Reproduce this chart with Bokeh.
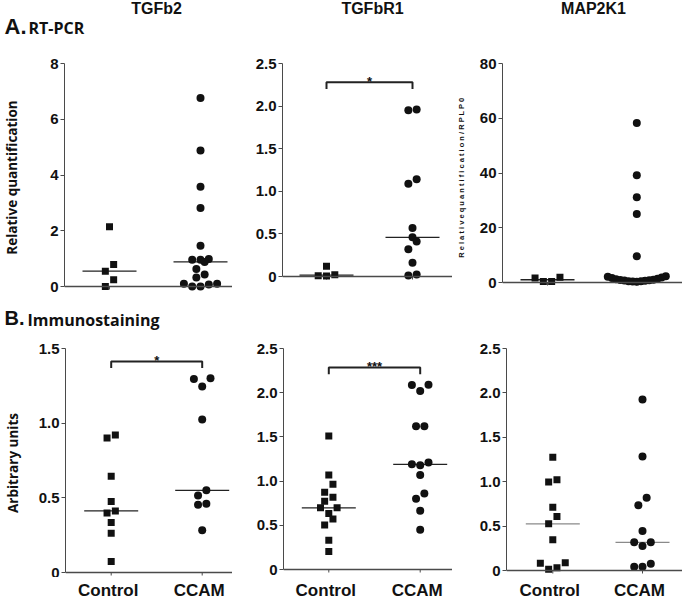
import numpy as np
from bokeh.plotting import figure
from bokeh.models import Span, FixedTicker
from bokeh.layouts import row, column
from bokeh.core.properties import value
from bokeh.embed import file_html
from bokeh.resources import INLINE

groups = ["Control", "CCAM"]
genes = ["TGFb2", "TGFbR1", "MAP2K1"]
sections = [("A.", "RT-PCR"), ("B.", "Immunostaining")]

# ---- A. RT-PCR (relative quantification)
rt_tgfb2_control = [2.14, 0.79, 0.55, 0.24, 0.0]
rt_tgfb2_ccam = [6.76, 4.88, 3.58, 2.82, 1.46, 0.99, 0.96, 0.96, 0.88, 0.63,
                 0.43, 0.32, 0.10, 0.10, 0.07, 0.0, 0.0]
rt_tgfbr1_control = [0.12, 0.02, 0.01, 0.005]
rt_tgfbr1_ccam = [1.96, 1.95, 1.14, 1.09, 0.57, 0.46, 0.41, 0.32, 0.16, 0.023, 0.012]
rt_map2k1_control = [1.9, 1.6, 0.4, 0.35]
rt_map2k1_ccam = [58.3, 39.2, 31.1, 25.0, 9.6, 2.3, 2.1, 1.8, 1.6, 1.4, 1.2, 1.0,
                  0.9, 0.8, 0.7, 0.6, 0.5, 0.45, 0.4, 0.3]

# ---- B. Immunostaining (arbitrary units)
im_tgfb2_control = [0.92, 0.90, 0.645, 0.476, 0.412, 0.398, 0.335, 0.263, 0.073]
im_tgfb2_ccam = [1.30, 1.295, 1.246, 1.024, 0.55, 0.516, 0.461, 0.454, 0.283]
im_tgfbr1_control = [1.51, 1.07, 0.965, 0.875, 0.818, 0.773, 0.698, 0.698, 0.634,
                     0.571, 0.503, 0.33, 0.203]
im_tgfbr1_ccam = [2.09, 2.087, 2.02, 1.62, 1.62, 1.21, 1.19, 1.18, 1.07, 0.86,
                  0.80, 0.664, 0.45]
im_map2k1_control = [1.276, 1.022, 0.996, 0.713, 0.608, 0.526, 0.347, 0.086, 0.082,
                     0.03, 0.015]
im_map2k1_ccam = [1.925, 1.284, 0.82, 0.735, 0.444, 0.317, 0.317, 0.276, 0.075,
                  0.041, 0.041]

# ---- axis ticks
ticks_rt_tgfb2 = [0, 2, 4, 6, 8]
labels_rt_tgfb2 = ["0", "2", "4", "6", "8"]
ticks_rt_map2k1 = [0, 20, 40, 60, 80]
labels_rt_map2k1 = ["0", "20", "40", "60", "80"]
ticks_25 = [0, 0.5, 1, 1.5, 2, 2.5]
labels_25 = ["0", "0.5", "1.0", "1.5", "2.0", "2.5"]
ticks_15 = [0, 0.5, 1, 1.5]
labels_15 = ["0", "0.5", "1.0", "1.5"]

# ---- significance brackets: (bar height, leg bottom, stars)
sig_rt_tgfbr1 = (2.28, 2.20, "*")
sig_im_tgfb2 = (1.413, 1.37, "*")
sig_im_tgfbr1 = (2.286, 2.21, "***")

ylabel_rt = "Relative quantification"
ylabel_rt_map2k1 = "R e l a t i v e  q u a n t i f i c a t i o n  / R P L P 0"
ylabel_im = "Arbitrary units"

ARIAL = "Liberation Sans"
SANS = "Open Sans"
INK = "#111111"
AXC = "#4a4a4a"
EXT = 5          # px of frame below the zero line
STEP = 8.3       # px between neighbouring dots in a row
MAXW = 58.0      # max px width of a row of dots
PAGE_L, PAGE_R = 0, 679

# page-pixel layout of every panel
lay_rt_tgfb2 = dict(fig_left=0, frame_left=61, fw=168, ctrl=106, ccam=197,
                    fig_top=44, top=59, zero=282, fig_bottom=300)
lay_rt_tgfbr1 = dict(fig_left=229, frame_left=279, fw=170, ctrl=323, ccam=409,
                     fig_top=44, top=63, zero=276, fig_bottom=300)
lay_rt_map2k1 = dict(fig_left=449, frame_left=499, fw=180, ctrl=544, ccam=633.3,
                     fig_top=44, top=52, zero=271, fig_bottom=300)
lay_im_tgfb2 = dict(fig_left=0, frame_left=62, fw=167, ctrl=107.7, ccam=198.7,
                    fig_top=336, top=347, zero=571, fig_bottom=577)
lay_im_tgfbr1 = dict(fig_left=229, frame_left=280, fw=169, ctrl=325.3, ccam=416.7,
                     fig_top=336, top=348, zero=569, fig_bottom=577)
lay_im_map2k1 = dict(fig_left=449, frame_left=503, fw=176, ctrl=549.3, ccam=639,
                     fig_top=336, top=345, zero=567, fig_bottom=577)


def swarm(vals, ppu, cat_ppu):
    """Prism-like dot spreading: dots closer than one marker in y share a row,
    lowest in the middle, alternating outwards."""
    v = np.asarray(vals, float)
    order = np.argsort(v, kind="stable")
    rows, cur = [], []
    for i in order:
        if cur and (v[i] - v[cur[0]]) * ppu >= STEP:
            rows.append(cur)
            cur = []
        cur.append(i)
    if cur:
        rows.append(cur)
    off = np.zeros(len(v))
    for r in rows:
        n = len(r)
        if n == 1:
            continue
        step = min(STEP, MAXW / (n - 1))
        mid = (n - 1) / 2.0
        slots = sorted(range(n), key=lambda k: (abs(k - mid), k))
        for j, idx in enumerate(r):
            off[idx] = (slots[j] - mid) * step / cat_ppu
    return off


def strip(top, bottom):
    """A text-only band whose data coordinates are page pixels."""
    s = figure(title=None, width=PAGE_R - PAGE_L, height=bottom - top,
               x_range=(PAGE_L, PAGE_R), y_range=(bottom, top),
               min_border_left=0, min_border_right=0, min_border_top=0,
               min_border_bottom=0, x_axis_type=None, y_axis_type=None,
               toolbar_location=None, output_backend="svg")
    s.outline_line_color = None
    s.xgrid.grid_line_color = None
    s.ygrid.grid_line_color = None
    return s


def put_text(s, x, baseline, text, font, size_px, align="left"):
    # vertically centred text; centre sits ~0.33 em above the baseline
    s.text(x=[x], y=[baseline - 0.33 * size_px], text=[text], text_font=value(font),
           text_font_size=f"{size_px}px", text_font_style="bold", text_color=INK,
           text_align=align, text_baseline="middle")


def make_panel(L, ctrl_vals, ccam_vals, ticks, tlabels, ylabel=None,
               ylabel_font=SANS, ylabel_size="13.5px", ylabel_standoff=10,
               sig=None, median_color="#222222"):
    ymax = ticks[-1]
    cat_ppu = L["ccam"] - L["ctrl"]
    x0 = 1 - (L["ctrl"] - L["frame_left"]) / cat_ppu
    x1 = x0 + L["fw"] / cat_ppu
    ppu = (L["zero"] - L["top"]) / ymax
    y0 = -EXT / ppu
    fh = L["zero"] + EXT - L["top"]
    p = figure(title=None, frame_width=L["fw"], frame_height=fh, x_range=(x0, x1),
               y_range=(y0, ymax),
               min_border_left=int(L["frame_left"] - L["fig_left"]),
               min_border_right=0,
               min_border_top=int(L["top"] - L["fig_top"]),
               min_border_bottom=int(L["fig_bottom"] - (L["zero"] + EXT)),
               x_axis_type=None, toolbar_location=None, output_backend="svg")
    p.ygrid.grid_line_color = None
    p.xgrid.grid_line_color = None
    p.outline_line_color = None
    p.background_fill_color = "white"
    p.border_fill_color = "white"

    ax = p.yaxis[0]
    ax.ticker = FixedTicker(ticks=ticks)
    ax.major_label_overrides = {(int(t) if float(t).is_integer() else t): s
                                for t, s in zip(ticks, tlabels)}
    ax.bounds = (0, ymax)
    ax.axis_line_color = AXC
    ax.axis_line_width = 1
    ax.major_tick_line_color = AXC
    ax.major_tick_out = 4
    ax.major_tick_in = 0
    ax.minor_tick_line_color = None
    ax.major_label_text_font = ARIAL
    ax.major_label_text_font_size = "15px"
    ax.major_label_text_font_style = "bold"
    ax.major_label_text_color = INK
    ax.major_label_standoff = 2
    if ylabel:
        ax.axis_label = ylabel
        ax.axis_label_text_font = ylabel_font
        ax.axis_label_text_font_size = ylabel_size
        ax.axis_label_text_font_style = "bold"
        ax.axis_label_text_color = INK
        ax.axis_label_standoff = ylabel_standoff

    # zero baseline and category ticks
    p.add_layout(Span(location=0, dimension="width", line_color=AXC, line_width=1.3))
    p.segment(x0=[1, 2], x1=[1, 2], y0=[0, 0], y1=[-3.0 / ppu] * 2,
              line_color=AXC, line_width=1)

    # medians
    half = 27.0 / cat_ppu
    med = [float(np.median(ctrl_vals)), float(np.median(ccam_vals))]
    p.segment(x0=[1 - half, 2 - half], x1=[1 + half, 2 + half], y0=med, y1=med,
              line_color=median_color, line_width=1.3)

    # dots
    cx = 1 + swarm(ctrl_vals, ppu, cat_ppu)
    kx = 2 + swarm(ccam_vals, ppu, cat_ppu)
    p.scatter(cx, ctrl_vals, marker="square", size=7, fill_color=INK, line_color=None)
    p.scatter(kx, ccam_vals, marker="circle", size=8, fill_color=INK, line_color=None)

    if sig:
        yb, yl, stars = sig
        p.line([1, 1, 2, 2], [yl, yb, yb, yl], line_color="#222222", line_width=2)
        p.text(x=[1.5], y=[yb], text=[stars], text_align="center",
               text_baseline="alphabetic", text_font=value(ARIAL),
               text_font_style="bold", text_font_size="13px", text_color=INK,
               y_offset=-1)
    return p


p1 = make_panel(lay_rt_tgfb2, rt_tgfb2_control, rt_tgfb2_ccam,
                ticks_rt_tgfb2, labels_rt_tgfb2, ylabel=ylabel_rt,
                ylabel_standoff=26)
p2 = make_panel(lay_rt_tgfbr1, rt_tgfbr1_control, rt_tgfbr1_ccam,
                ticks_25, labels_25, sig=sig_rt_tgfbr1)
p3 = make_panel(lay_rt_map2k1, rt_map2k1_control, rt_map2k1_ccam,
                ticks_rt_map2k1, labels_rt_map2k1, ylabel=ylabel_rt_map2k1,
                ylabel_font=ARIAL, ylabel_size="7.5px", ylabel_standoff=11)
p4 = make_panel(lay_im_tgfb2, im_tgfb2_control, im_tgfb2_ccam,
                ticks_15, labels_15, ylabel=ylabel_im,
                ylabel_standoff=14, sig=sig_im_tgfb2)
p5 = make_panel(lay_im_tgfbr1, im_tgfbr1_control, im_tgfbr1_ccam,
                ticks_25, labels_25, sig=sig_im_tgfbr1)
p6 = make_panel(lay_im_map2k1, im_map2k1_control, im_map2k1_ccam,
                ticks_25, labels_25, median_color="#8a8a8a")

# header band: gene titles + section A
head1 = strip(0, 44)
for gene, cx in zip(genes, (156, 372, 593)):
    put_text(head1, cx, 13.5, gene, ARIAL, 16, align="center")
put_text(head1, 4, 33.3, sections[0][0], ARIAL, 22)
put_text(head1, 28, 32.5, sections[0][1], SANS, 16)

# header band: section B
head2 = strip(300, 336)
put_text(head2, 4, 324.5, sections[1][0], ARIAL, 20)
put_text(head2, 27, 324.5, sections[1][1], SANS, 16)

# footer band: group labels under each bottom panel
foot = strip(577, 601)
for L in (lay_im_tgfb2, lay_im_tgfbr1, lay_im_map2k1):
    put_text(foot, L["ctrl"], 595.5, groups[0], ARIAL, 17, align="center")
    put_text(foot, L["ccam"], 595.5, groups[1], ARIAL, 17, align="center")

layout = column(head1, row(p1, p2, p3), head2, row(p4, p5, p6), foot)
open("out.html", "w").write(file_html(layout, INLINE))
